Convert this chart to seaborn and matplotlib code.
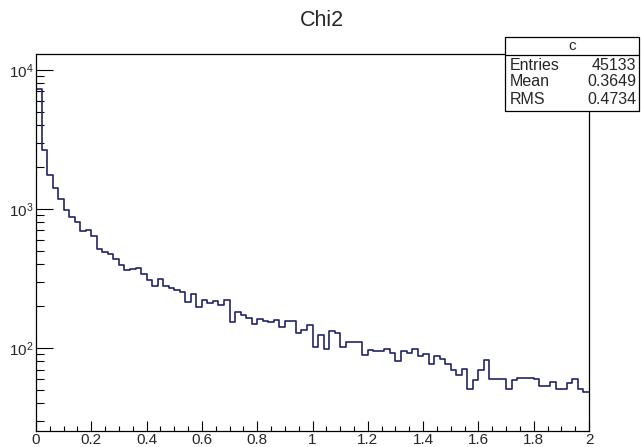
import numpy as np
import pandas as pd
import matplotlib.pyplot as plt
import seaborn as sns
from matplotlib.patches import Rectangle
from matplotlib.lines import Line2D
from matplotlib.ticker import LogLocator, MultipleLocator, NullFormatter

# histogram "c": 100 bins between 0 and 2, contents
bin_lo, bin_hi, n_bins = 0.0, 2.0, 100
counts = [
    7260, 2650, 1740, 1420, 1180, 985, 875, 805, 690, 700,
    638, 517, 488, 477, 437, 392, 365, 370, 377, 341,
    308, 279, 312, 279, 268, 261, 253, 214, 243, 197,
    223, 211, 218, 205, 220, 155, 181, 174, 165, 149,
    162, 157, 153, 159, 141, 157, 157, 129, 135, 146,
    102, 124, 99, 132, 129, 102, 111, 111, 111, 89,
    96, 95, 95, 98, 92, 81, 95, 92, 98, 88,
    90, 77, 88, 84, 77, 69, 64, 71, 51, 59,
    70, 82, 60, 60, 60, 51, 59, 61, 61, 61,
    60, 53, 53, 57, 51, 51, 56, 60, 51, 48,
]
title = "Chi2"
stats_name = "c"
stats_labels = ["Entries", "Mean", "RMS"]
stats_values = ["45133", "0.3649", "0.4734"]

edges = np.linspace(bin_lo, bin_hi, n_bins + 1)
df = pd.DataFrame({"chi2": (edges[:-1] + edges[1:]) / 2, "w": counts})

sns.set_theme(style="white")
plt.rcParams["font.family"] = ["Liberation Sans", "DejaVu Sans"]

fig = plt.figure(figsize=(6.41, 4.47), dpi=100)
ax = fig.add_axes([36 / 641, 1 - 431 / 447, 553 / 641, 377 / 447])

line_col = "#22226a"
sns.histplot(data=df, x="chi2", weights="w", bins=n_bins, binrange=(bin_lo, bin_hi),
             element="step", fill=False, color=line_col, linewidth=1.2, ax=ax)
ax.set_yscale("log")
ax.set_xlim(bin_lo, bin_hi)
ax.set_ylim(25.3, 13000)
ax.set_xlabel("")
ax.set_ylabel("")

# ROOT-like axes
for s in ax.spines.values():
    s.set_color("black")
    s.set_linewidth(0.9)
ax.xaxis.set_major_locator(MultipleLocator(0.2))
ax.xaxis.set_minor_locator(MultipleLocator(0.05))
ax.xaxis.set_major_formatter(lambda v, p: f"{v:g}")
ax.yaxis.set_major_locator(LogLocator(base=10))
ax.yaxis.set_minor_locator(LogLocator(base=10, subs=np.arange(2, 10)))
ax.yaxis.set_minor_formatter(NullFormatter())
ax.tick_params(which="both", bottom=True, left=True, top=False, right=False,
               direction="in", color="black", width=0.8)
ax.tick_params(axis="x", which="major", length=7.5, labelsize=11, pad=1.5)
ax.tick_params(axis="x", which="minor", length=3.8)
ax.tick_params(axis="y", which="major", length=12, labelsize=11, pad=2)
ax.tick_params(axis="y", which="minor", length=6)

fig.text(0.502, 0.955, title, ha="center", va="center", fontsize=15.5)

# statistics box
x0, x1, y0, y1 = 505 / 641, 639 / 641, 1 - 111 / 447, 1 - 37 / 447
fig.add_artist(Rectangle((x0, y0), x1 - x0, y1 - y0, transform=fig.transFigure,
                         facecolor="white", edgecolor="black", linewidth=0.9, zorder=5))
fig.add_artist(Line2D([x0, x1], [1 - 55 / 447] * 2, transform=fig.transFigure,
                      color="black", linewidth=0.9, zorder=6))
fig.text((x0 + x1) / 2, 1 - 46 / 447, stats_name, ha="center", va="center",
         fontsize=11, zorder=7)
for i, (lab, val) in enumerate(zip(stats_labels, stats_values)):
    yy = 1 - (65 + 17 * i) / 447
    fig.text(510 / 641, yy, lab, ha="left", va="center", fontsize=11.5, zorder=7)
    fig.text(636 / 641, yy, val, ha="right", va="center", fontsize=11.5, zorder=7)

fig.savefig("out.png", dpi=100)
